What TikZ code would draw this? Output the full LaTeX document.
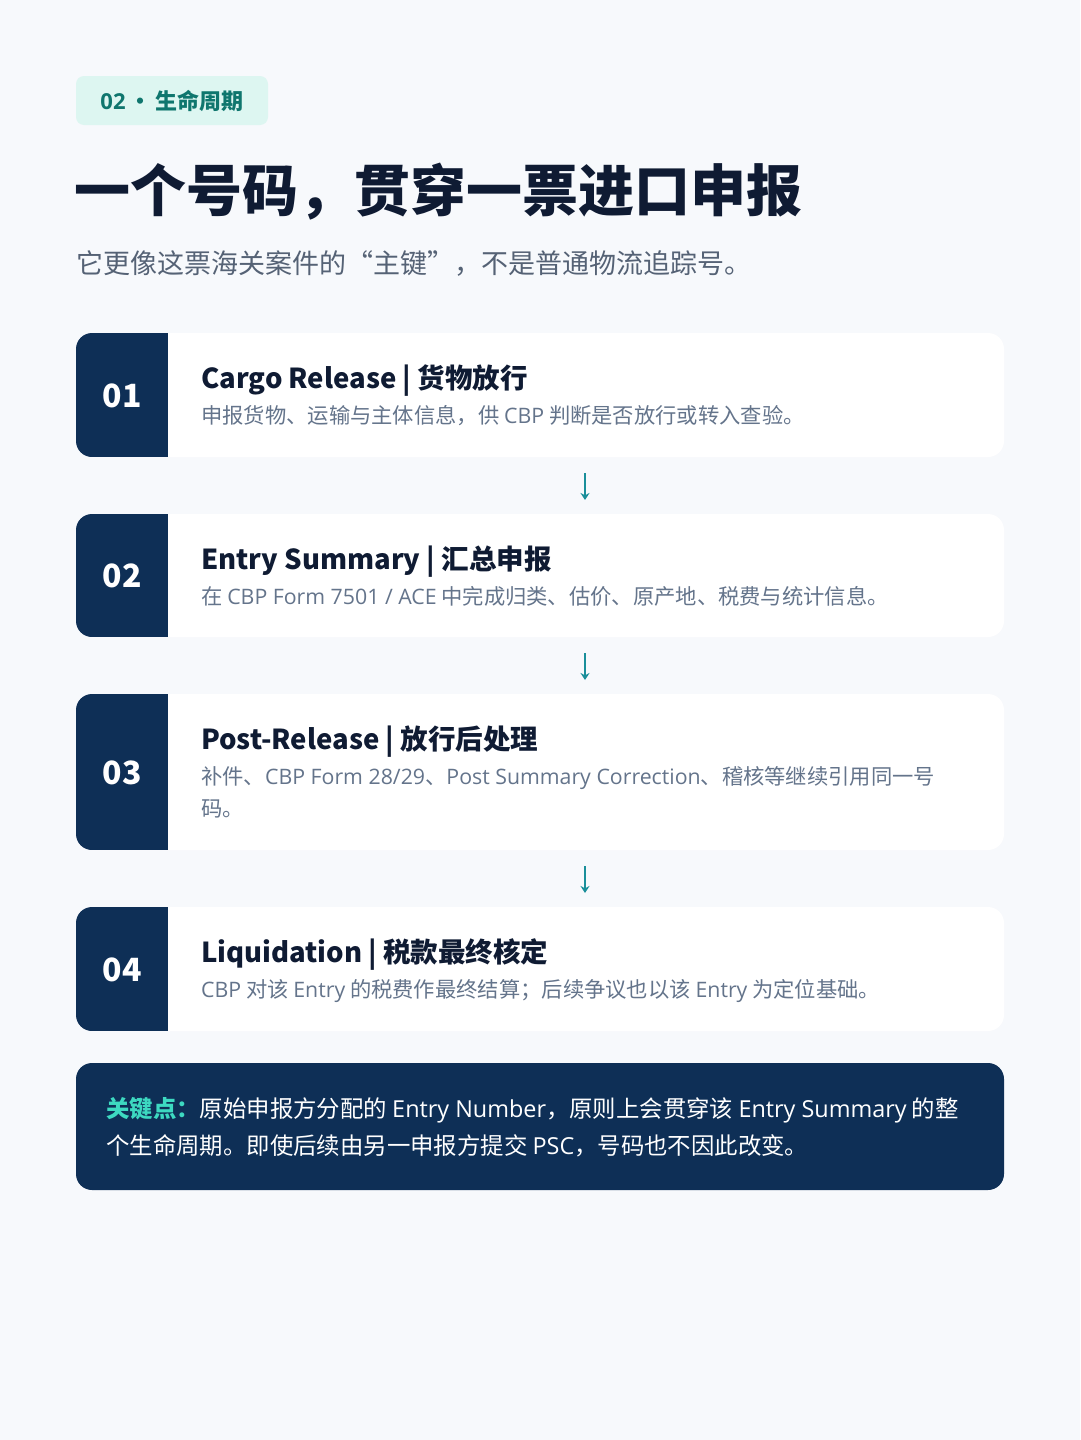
\documentclass[tikz,border=0pt]{standalone}
\usepackage{fontspec}
\setmainfont{Noto Sans CJK SC}
\newfontfamily\lat{Open Sans}
\usetikzlibrary{arrows.meta}
\definecolor{bg}{HTML}{F7F9FC}
\definecolor{navy}{HTML}{0E2F56}
\definecolor{ink}{HTML}{0F1B33}
\definecolor{muted}{HTML}{64748B}
\definecolor{tealtxt}{HTML}{0F766E}
\definecolor{tagbg}{HTML}{DDF6F1}
\definecolor{arrowc}{HTML}{1A8F9A}
\definecolor{keyc}{HTML}{3DD9C1}
\definecolor{subc}{HTML}{556275}
\begin{document}
\begin{tikzpicture}[x=1pt,y=-1pt,
  card/.style={draw=none, fill=white, rounded corners=16pt, minimum width=928pt, inner sep=0pt,
    path picture={\fill[navy, sharp corners] (path picture bounding box.north west) rectangle ([xshift=92pt]path picture bounding box.south west);}},
  numtxt/.style={text=white, font=\fontsize{32}{36}\selectfont\bfseries, anchor=center, inner sep=0pt},
  ctitle/.style={text=ink, font=\fontsize{27.5}{32}\selectfont\bfseries, anchor=base west, inner sep=0pt},
  cdesc/.style={text=muted, font=\fontsize{21.3}{24}\selectfont, anchor=base west, inner sep=0pt},
  flow/.style={draw=arrowc, line width=2.2pt, -{Stealth[length=7pt,width=9pt]}},
  keytxt/.style={text=white, font=\fontsize{23.4}{28}\selectfont, anchor=base west, inner sep=0pt}
]
\useasboundingbox (0,0) rectangle (1080,1440);
\fill[bg] (0,0) rectangle (1080,1440);

% tag
\node[fill=tagbg, rounded corners=8pt, minimum width=192pt, minimum height=49pt, inner sep=0pt] (tag) at (172,100.5) {};
\node[text=tealtxt, font=\fontsize{22}{24}\selectfont\bfseries, anchor=center, inner sep=0pt] (tagtxt) at (tag.center) {{\lat\bfseries 02}\hspace{4pt}•\hspace{4pt}生命周期};

% title
\node[text=ink, font=\fontsize{56}{64}\selectfont\bfseries, anchor=base west, inner sep=0pt] (title) at (74,211) {一个号码，贯穿一票进口申报};
\node[text=subc, font=\fontsize{27}{30}\selectfont, anchor=base west, inner sep=0pt] (sub) at (76,273) {它更像这票海关案件的“主键”，不是普通物流追踪号。};

% card 1
\node[card, minimum height=124pt] (c1) at (540,395) {};
\node[numtxt] (n1) at (122,396) {01};
\node[ctitle] (t1) at (201,388) {Cargo Release | 货物放行};
\node[cdesc] (d1) at (201,423) {申报货物、运输与主体信息，供 {\lat CBP} 判断是否放行或转入查验。};

% card 2
\node[card, minimum height=123pt] (c2) at (540,575.5) {};
\node[numtxt] (n2) at (122,576) {02};
\node[ctitle] (t2) at (201,569) {Entry Summary | 汇总申报};
\node[cdesc] (d2) at (201,604) {在 {\lat CBP Form 7501 / ACE} 中完成归类、估价、原产地、税费与统计信息。};

% card 3
\node[card, minimum height=156pt] (c3) at (540,772) {};
\node[numtxt] (n3) at (122,773) {03};
\node[ctitle] (t3) at (201,749) {Post-Release | 放行后处理};
\node[cdesc] (d3a) at (201,784) {补件、{\lat CBP Form 28/29}、{\lat Post Summary Correction}、稽核等继续引用同一号};
\node[cdesc] (d3b) at (201,816) {码。};

% card 4
\node[card, minimum height=124pt] (c4) at (540,969) {};
\node[numtxt] (n4) at (122,970) {04};
\node[ctitle] (t4) at (201,962) {Liquidation | 税款最终核定};
\node[cdesc] (d4) at (201,997) {{\lat CBP} 对该 {\lat Entry} 的税费作最终结算；后续争议也以该 {\lat Entry} 为定位基础。};

% arrows
\coordinate (a1s) at (585,473); \coordinate (a1e) at (585,500);
\coordinate (a2s) at (585,653); \coordinate (a2e) at (585,680);
\coordinate (a3s) at (585,866); \coordinate (a3e) at (585,893);
\draw[flow] (a1s) -- (a1e);
\draw[flow] (a2s) -- (a2e);
\draw[flow] (a3s) -- (a3e);

% key box
\node[fill=navy, rounded corners=16pt, minimum width=928pt, minimum height=127pt, inner sep=0pt] (key) at (540,1126.5) {};
\node[keytxt] (k1) at (106,1117) {{\color{keyc}\bfseries 关键点：}原始申报方分配的 {\lat Entry Number}，原则上会贯穿该 {\lat Entry Summary} 的整};
\node[keytxt] (k2) at (106,1154) {个生命周期。即使后续由另一申报方提交 {\lat PSC}，号码也不因此改变。};
\end{tikzpicture}
\end{document}
